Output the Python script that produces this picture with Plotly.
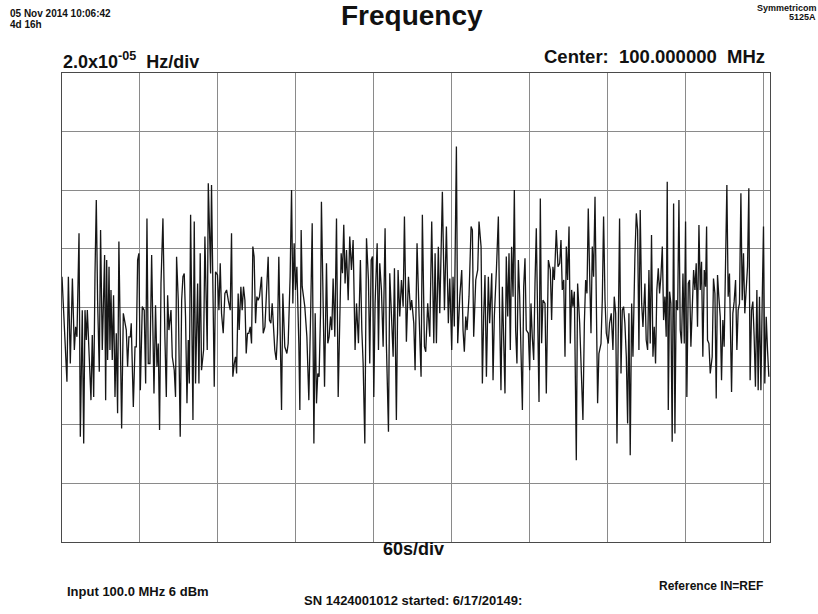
import plotly.graph_objects as go

# time since start of plot window, seconds
t_s = [
    0.0, 1.8, 3.8, 4.9, 6.4, 8.0, 9.5, 10.5, 11.5, 13.1,
    14.1, 15.6, 16.7, 17.7, 18.7, 19.5, 20.8, 22.3, 23.3, 24.4,
    25.4, 26.4, 27.4, 28.7, 29.7, 31.0, 32.8, 33.6, 34.4, 35.1,
    36.2, 36.9, 37.7, 38.7, 39.7, 40.8, 41.8, 42.8, 43.8, 44.9,
    45.9, 47.2, 48.5, 49.5, 50.5, 51.5, 52.6, 53.3, 54.9, 56.2,
    57.2, 58.2, 59.2, 60.3, 61.8, 63.3, 64.4, 65.4, 66.4, 67.7,
    69.0, 70.0, 70.8, 72.0, 73.1, 74.1, 75.1, 76.2, 77.7, 79.2,
    80.3, 81.3, 82.3, 83.9, 84.9, 86.4, 87.4, 88.2, 89.5, 91.0,
    92.1, 93.1, 94.1, 95.1, 96.2, 97.2, 98.0, 99.0, 100.0, 100.8,
    101.8, 102.8, 104.4, 105.4, 106.4, 107.4, 109.0, 110.0, 111.0, 111.8,
    112.6, 113.6, 114.4, 115.1, 116.2, 117.2, 118.2, 119.7, 120.8, 121.8,
    122.8, 124.1, 125.4, 126.7, 128.0, 129.5, 130.5, 131.5, 132.6, 133.6,
    134.4, 135.6, 136.4, 137.7, 138.7, 139.7, 140.8, 141.8, 142.8, 143.8,
    144.9, 145.9, 146.9, 147.9, 149.0, 150.0, 151.0, 152.0, 153.6, 154.9,
    156.2, 157.7, 158.7, 159.7, 160.8, 161.8, 162.8, 163.8, 164.9, 165.9,
    166.9, 167.9, 169.0, 170.0, 171.5, 173.1, 174.1, 175.6, 176.7, 177.7,
    178.7, 179.7, 180.8, 182.3, 183.1, 184.1, 184.9, 185.9, 186.9, 188.5,
    190.0, 191.5, 192.6,
    193.9, 194.9, 195.9, 196.9, 197.9, 199.0, 199.7, 201.0, 202.1, 203.6,
    204.6, 205.6, 206.7, 207.7, 208.7, 210.0, 211.3, 212.6, 213.8, 214.9,
    215.9, 216.9, 217.9, 219.0, 220.3, 221.5, 222.8, 224.1, 225.6, 226.7,
    228.2, 229.7, 230.8, 231.8, 233.1, 234.4, 235.9, 236.9, 238.0, 239.0,
    240.0, 241.0, 242.6, 243.6, 244.6, 245.9, 247.2, 248.7, 249.7, 251.3,
    252.3, 253.8, 254.9, 255.9, 257.4, 258.7, 260.0, 261.3, 262.6, 263.6,
    265.1, 266.7, 268.2, 269.2, 270.8, 271.8, 273.3, 274.9, 276.4, 277.4,
    279.0, 280.0, 281.5, 283.1, 284.6, 286.2, 287.2, 288.2, 289.7, 290.8,
    292.8, 294.4, 295.9, 297.4, 298.5, 300.0, 301.0, 302.0, 303.6, 304.6,
    306.2, 307.7, 308.7, 309.7, 310.8, 311.8, 313.3, 314.9, 315.9, 316.9,
    318.5, 320.0, 321.0, 322.6, 323.6, 324.6, 325.6, 326.7, 328.2, 329.2,
    330.8, 331.8, 332.8, 334.4, 335.9, 336.9, 337.9, 339.0, 340.0, 341.0,
    342.0, 343.1, 344.1, 345.1, 346.1, 347.2, 348.2, 349.2, 350.2, 351.3,
    352.3, 353.3, 354.4, 355.4, 356.4, 357.4, 359.0, 360.0, 361.0, 362.0,
    363.1, 364.1, 365.1, 366.1, 367.2, 368.2, 369.2, 370.2, 371.8, 372.8,
    374.4, 375.9, 376.9, 377.9, 379.0, 380.5,
    381.8, 383.1, 384.1, 385.1, 386.2, 387.2, 388.2, 389.2, 390.3, 391.3,
    392.3, 393.3, 394.4, 395.9, 396.9, 398.5, 400.0, 401.0, 402.1, 403.1,
    404.1, 405.1, 406.2, 407.2, 408.2, 409.2, 410.3, 411.3, 412.3, 413.3,
    414.9, 415.9, 416.9, 418.0, 419.0, 420.5, 421.5, 422.8, 424.1, 425.1,
    426.2, 427.2, 428.2, 429.2, 430.3, 431.3, 432.3, 433.3, 434.4, 435.4,
    436.4, 437.4, 438.5, 439.5, 441.0, 442.1, 443.1, 444.1, 445.1, 446.2,
    447.2, 448.7, 449.7, 450.8, 451.8, 452.8, 453.8, 454.9, 455.9, 456.9,
    457.9, 459.0, 460.0, 461.0, 462.1, 463.1, 464.1, 465.1, 465.9, 466.7,
    467.7, 468.7, 469.7, 470.8, 471.8, 472.8, 473.9, 474.9, 475.9, 476.9,
    478.0, 479.0, 480.0, 481.0, 482.1, 483.1, 484.1, 485.1, 486.2, 487.2,
    488.2, 489.2, 490.3, 491.3, 492.3, 493.3, 494.4, 495.4, 496.2, 496.9,
    498.0, 499.0, 500.5, 501.5, 502.6, 503.6, 504.6, 505.6, 506.7, 507.7,
    508.7, 509.7, 510.8, 511.8, 512.8, 513.8, 515.4, 516.4, 517.4, 518.5,
    519.5, 520.5, 521.5, 522.6, 523.6, 524.6, 525.6, 526.7, 527.7, 528.7,
    529.7, 530.8, 531.8, 532.8, 533.8, 534.9, 535.9, 536.9, 538.0, 539.0,
    540.0, 541.0, 542.1, 543.1, 544.1,
]

# frequency offset from 100.000000 MHz, in micro-hertz (20 uHz = 2.0e-05 Hz per division)
df_uhz = [
    10.5, -6.6, -25.3, 10.5, -19.1, 9.9, -14.5, -6.6, -10.0, 25.3,
    -44.1, -0.9, -46.4, -0.9, -11.1, -0.9, -14.5, -31.6, -9.4, -30.5,
    11.6, 36.7, 2.5, -21.9, 26.4, -14.5, 17.9, -31.6, 16.2, -17.9,
    13.9, -14.5, 6.0, -17.9, 4.2, -30.5, -8.8, -36.1, 22.5, -11.1,
    -41.3, -2.0, -5.4, -7.7, -20.2, -10.0, -10.0, -5.4, -33.9, -13.4,
    -13.4, 16.2, 18.5, -28.2, 0.3, -0.9, -25.9, 30.4, -19.1, -19.1,
    17.9, -17.9, -29.3, 0.8, -20.2, -12.3, -41.8, 8.2, 30.4, -10.0,
    -30.5, 4.2, -7.7, -0.9, -16.8, -21.4, -30.5, 17.3, 2.5, -44.1,
    2.5, 10.5, 11.6, -3.2, -32.7, -11.1, -25.9, 31.6, -24.8, -38.4,
    29.3, -25.9, 8.2, -25.9, 18.5, -21.4, -14.5, 24.2, 2.5, -14.5,
    42.4, 17.3, 11.6, 41.8, -3.2, -27.0, 12.2, 11.1, -0.9, 15.1,
    -2.0, -8.8, 4.8, 6.0, 2.5, -0.9, 25.3, -23.6, -19.1, -16.8,
    -22.5, 4.8, -7.7, 7.1, -0.9, 7.1, 2.5, -15.7, -8.8, -8.8,
    -6.6, -12.3, 20.8, 17.3, -5.4, 3.7, 2.5, 3.7, 10.5, -8.8,
    -6.6, 6.0, 17.3, -4.3, -5.4, 1.4, -8.8, -14.5, -17.9, -8.8,
    17.3, -10.0, -35.0, 4.8, -13.4, -15.7, -12.3, 10.5, 40.1, 1.4,
    21.9, 6.0, 13.9, -12.3, -35.0, 26.4, 7.1, 3.7, 0.3, -10.0,
    -31.6, 0.3, 28.7,
    -46.4, -2.0, -32.7, -22.5, -23.6, -2.0, 36.1, -7.7, -27.0, 15.1,
    -12.2, -10.0, -3.1, -7.7, 9.9, -10.0, 30.4, -30.5, 1.4, 18.5,
    11.7, 28.2, 8.2, 19.6, 2.5, 24.2, 12.8, 23.0, -14.5, 1.4,
    -12.2, 16.2, -7.7, -19.1, -46.4, 23.6, 9.4, -19.1, 16.2, 17.4,
    -30.5, 1.4, 21.9, -14.5, 15.1, 6.0, -13.4, 27.0, -12.2, -42.4,
    11.7, -3.1, -16.8, 13.4, -38.4, 12.8, -3.1, 9.4, 0.3, 31.0,
    -11.7, 10.5, -0.9, 2.5, -5.4, -21.4, 21.9, -3.1, -23.6, 31.6,
    -13.4, -15.1, 1.4, -10.0, 29.3, -12.2, 18.5, -12.2, 20.7, -2.0,
    39.5, -0.9, 27.6, -5.4, 9.9, -14.5, 10.5, -6.5, 54.9, -12.2,
    3.7, 12.8, -7.7, -15.1, -3.1, -7.7, 3.7, 27.6, 26.4, -10.0,
    9.4, 12.8, 29.3, 20.7, -25.9, -3.1, 11.1, -23.6, 10.5, -5.4,
    11.7, -24.8, -3.1, 12.8, 31.0, -3.1, -28.2, 7.1, -17.9, -29.3,
    17.4, -3.1, 18.5, -14.5, 20.7, 3.7, 40.1, -7.7, -19.1, 16.2,
    3.7, -11.1, -35.0, 7.1, 16.8, -7.7, -8.8, -21.4, 1.4, -10.0,
    -17.9, 8.2, 27.0, -2.0, -32.2, 37.2, -12.2, 2.5, 1.4, -29.3,
    16.2, 12.8, -4.3, 13.9, 9.4, 26.4,
    13.9, 15.1, 23.0, 6.0, 9.4, -16.8, 20.8, 9.4, 27.6, -12.3,
    6.0, 0.3, 5.4, -52.1, 8.2, -5.4, -23.6, -38.4, -5.4, 9.4,
    4.8, 33.8, 10.5, -8.8, 20.8, 10.5, 37.8, -3.2, -32.7, -15.7,
    -12.3, 2.5, 31.0, 2.5, -8.8, -12.3, -5.4, -2.0, -14.5, 3.7,
    -2.0, -46.4, 0.3, 30.4, -22.5, -0.9, 0.3, -5.4, -16.8, -39.6,
    -2.0, -50.4, 1.4, -16.8, 17.3, 32.1, 26.4, -14.5, 33.3, 1.4,
    -6.6, 8.2, -11.1, -14.5, 12.8, -12.3, 24.7, -16.8, -6.6, -19.1,
    6.0, 13.4, 4.8, 10.5, 20.8, -4.3, 3.7, -10.0, 42.9, -35.0,
    5.4, 1.4, -45.8, 35.5, -43.0, 2.5, -0.9, 36.7, -7.7, -12.3,
    11.6, -12.3, 29.3, -30.5, 8.2, 9.4, -13.4, 2.5, 12.8, 6.0,
    15.1, -6.6, 28.1, 6.0, 15.6, -16.8, 12.8, 7.1, 27.6, -11.1,
    -12.3, -22.5, -16.8, 9.9, 4.8, -31.0, 11.1, 3.7, -3.2, -24.8,
    -4.3, -13.4, 10.5, 41.8, 3.7, 11.6, -28.8, -2.0, 2.0, 9.4,
    -14.5, -0.9, 1.4, 39.0, 2.5, 18.5, -2.0, 7.1, 13.9, 40.7,
    -24.8, -0.9, 2.0, -10.0, -27.0, 6.0, -28.2, 3.7, -28.2, 2.5,
    27.6, -25.9, -3.2, -14.5, -23.6,
]

sec_per_div = 60
uhz_per_div = 20
n_xdiv = 9
n_ydiv = 8

FONT = "Liberation Sans, Arial, Helvetica, sans-serif"

fig = go.Figure()
fig.add_trace(go.Scatter(
    x=t_s, y=df_uhz, mode="lines",
    line=dict(color="#161616", width=1.3),
    hoverinfo="skip", showlegend=False,
))

fig.update_xaxes(
    range=[0, 545], dtick=sec_per_div, tick0=0,
    showgrid=True, gridcolor="#8a8a8a", gridwidth=1,
    showticklabels=False, ticks="", zeroline=False,
    showline=True, mirror=True, linecolor="#4a4a4a", linewidth=1,
)
fig.update_yaxes(
    range=[-uhz_per_div * n_ydiv / 2, uhz_per_div * n_ydiv / 2], dtick=uhz_per_div, tick0=0,
    showgrid=True, gridcolor="#8a8a8a", gridwidth=1,
    showticklabels=False, ticks="", zeroline=False,
    showline=True, mirror=True, linecolor="#4a4a4a", linewidth=1,
)

def ann(text, x, y, size, xanchor="left"):
    fig.add_annotation(
        text=text, x=x, y=y, xref="paper", yref="paper",
        xanchor=xanchor, yanchor="middle", showarrow=False,
        font=dict(family=FONT, size=size, color="#111111"),
    )

ann("<b>Frequency</b>", 0.494, 1.1226, 28, "center")
ann("<b>05 Nov 2014 10:06:42</b>", -0.0763, 1.1264, 10)
ann("<b>4d 16h</b>", -0.0763, 1.104, 10)
ann("<b>Symmetricom</b>", 1.0692, 1.1388, 9, "right")
ann("<b>5125A</b>", 1.0678, 1.1196, 9, "right")
ann("<b>2.0x10<sup>-05</sup>  Hz/div</b>", -0.0014, 1.0256, 18)
ann("<b>Center:\u00a0 100.000000\u00a0 MHz</b>", 0.9958, 1.0358, 18.5, "right")
ann("<b>60s/div</b>", 0.497, -0.0143, 18, "center")
ann("<b>Input 100.0 MHz 6 dBm</b>", 0.0042, -0.1058, 13)
ann("<b>SN 1424001012 started: 6/17/20149:</b>", 0.339, -0.1249, 13)
ann("<b>Reference IN=REF</b>", 0.993, -0.0934, 12, "right")

fig.update_layout(
    width=818, height=614,
    margin=dict(l=62, r=48, t=73, b=72),
    paper_bgcolor="white", plot_bgcolor="white",
    font=dict(family=FONT),
)

# drop the browser's default 8 px page margin so the figure fills the window
fig.write_html(
    "out.html",
    config={"displayModeBar": False, "staticPlot": True},
    post_script="document.body.style.margin='0';document.body.style.overflow='hidden';",
)
